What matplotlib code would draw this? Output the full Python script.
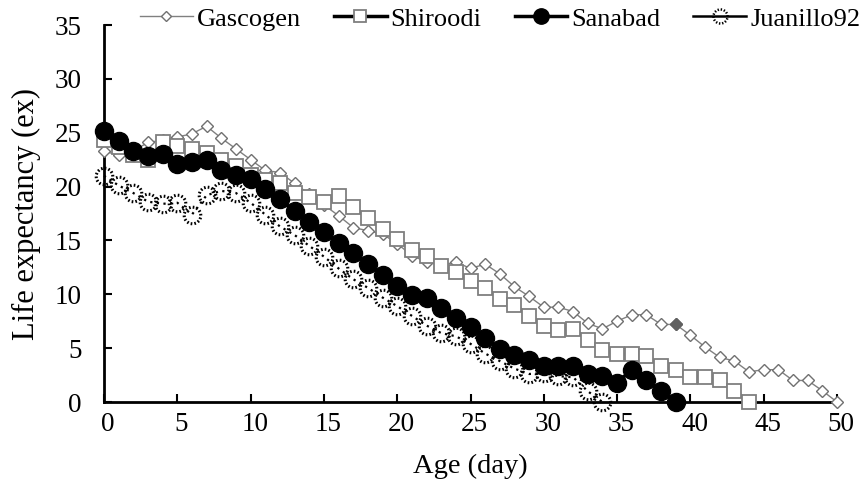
import numpy as np
import matplotlib
matplotlib.use("Agg")
import matplotlib.pyplot as plt
import matplotlib.transforms as mtransforms
from matplotlib.path import Path
from matplotlib.lines import Line2D

plt.rcParams['font.family'] = ['Liberation Serif', 'DejaVu Serif']

# life expectancy (ex) per age in days
gascogen = [23.3, 22.9, 23.3, 24.1, 24.3, 24.6, 24.9, 25.6, 24.5, 23.5,
            22.5, 21.5, 21.3, 20.3, 19.3, 18.3, 17.3, 16.2, 15.9, 15.6,
            14.7, 13.6, 13.0, 12.7, 13.0, 12.4, 12.8, 11.9, 10.7, 9.8,
            8.8, 8.8, 8.4, 7.3, 6.8, 7.5, 8.1, 8.1, 7.2, 7.2,
            6.2, 5.1, 4.15, 3.8, 2.8, 3.0, 3.0, 2.0, 2.0, 1.05, 0.0]
shiroodi = [24.3, 23.7, 22.9, 22.5, 24.1, 23.8, 23.5, 23.1, 22.5, 21.9,
            21.1, 20.6, 20.3, 19.4, 19.0, 18.6, 19.1, 18.1, 17.1, 16.1,
            15.1, 14.1, 13.6, 12.6, 12.1, 11.2, 10.6, 9.6, 9.0, 8.0,
            7.1, 6.7, 6.8, 5.8, 4.8, 4.45, 4.45, 4.25, 3.3, 3.0,
            2.35, 2.35, 2.0, 1.05, 0.0]
sanabad = [25.2, 24.2, 23.3, 22.8, 23.0, 22.1, 22.3, 22.5, 21.5, 21.1,
           20.7, 19.8, 18.8, 17.7, 16.7, 15.8, 14.8, 13.8, 12.8, 11.8,
           10.8, 9.9, 9.7, 8.7, 7.8, 7.0, 5.9, 4.9, 4.4, 3.9,
           3.3, 3.3, 3.3, 2.6, 2.4, 1.8, 3.0, 2.0, 1.05, 0.0]
juanillo = [21.0, 20.1, 19.4, 18.6, 18.4, 18.5, 17.4, 19.2, 19.6, 19.4,
            18.5, 17.4, 16.3, 15.5, 14.5, 13.5, 12.4, 11.4, 10.6, 9.7,
            8.9, 8.0, 7.1, 6.4, 6.1, 5.4, 4.5, 3.8, 3.1, 2.6,
            2.7, 2.4, 2.3, 1.0, 0.0]

x_ticks = [0, 5, 10, 15, 20, 25, 30, 35, 40, 45, 50]
y_ticks = [0, 5, 10, 15, 20, 25, 30, 35]


def days(series):
    return list(range(len(series)))


def dotted_circle(n=14, dot=0.2):
    # marker outline made of short separate arcs -> a dotted circle
    verts, codes = [], []
    for k in range(n):
        a0 = 2 * np.pi * k / n
        verts += [(np.cos(a0), np.sin(a0)), (np.cos(a0 + dot), np.sin(a0 + dot))]
        codes += [Path.MOVETO, Path.LINETO]
    return Path(verts, codes)


dot_marker = dotted_circle()

fig = plt.figure(figsize=(8.65, 4.82), dpi=100)
ax = fig.add_axes([104 / 865, 80 / 482, 733 / 865, 377 / 482])

ax.plot(days(gascogen), gascogen, color='#808080', lw=1.0, marker='D',
        ms=6, mfc='white', mec='#707070', mew=1.0, label='Gascogen',
        clip_on=False, zorder=3)
# one filled marker in the original
ax.plot(days(gascogen)[39], gascogen[39], marker='D', ms=6, color='#606060',
        ls='none', clip_on=False, zorder=3)
ax.plot(days(shiroodi), shiroodi, color='black', lw=2.5, marker='s',
        ms=10.5, mfc='white', mec='#7f7f7f', mew=1.3, label='Shiroodi',
        clip_on=False, zorder=4)
ax.plot(days(sanabad), sanabad, color='black', lw=2.5, marker='o',
        ms=13, mfc='black', mec='black', label='Sanabad',
        clip_on=False, zorder=5)
ax.plot(days(juanillo), juanillo, color='black', lw=1.6, ls=(0, (1, 2)),
        marker=dot_marker, ms=12, mfc='none', mec='black', mew=2.2,
        clip_on=False, zorder=6)

handles, labels = ax.get_legend_handles_labels()
handles.append(Line2D([], [], color='black', lw=1.8, marker=dot_marker,
                      ms=12, mfc='white', mec='black', mew=1.8))
labels.append('Juanillo92')

ax.set_xlim(0, 50)
ax.set_ylim(0, 35)
ax.set_xticks(x_ticks)
ax.set_yticks(y_ticks)
ax.tick_params(direction='in', length=6, width=1.5, labelsize=19.5)
ax.tick_params(axis='y', pad=16)
ax.tick_params(axis='x', pad=7)
offset = mtransforms.ScaledTranslation(3 / 72, 0, fig.dpi_scale_trans)
for lab in ax.get_xticklabels():
    lab.set_transform(lab.get_transform() + offset)

for side in ['top', 'right']:
    ax.spines[side].set_visible(False)
for side in ['left', 'bottom']:
    ax.spines[side].set_linewidth(2)

ax.set_xlabel('Age (day)', fontsize=20.5, labelpad=12)
ax.set_ylabel('Life expectancy (ex)', fontsize=22, labelpad=10)

leg = fig.legend(handles, labels, loc='center left',
                 bbox_to_anchor=(140 / 865, 1 - 19 / 482), ncol=4,
                 frameon=False, fontsize=19, handlelength=2.0,
                 handletextpad=0.15, columnspacing=1.25, borderpad=0,
                 borderaxespad=0, markerscale=0.85)

fig.savefig('out.png', dpi=100)
